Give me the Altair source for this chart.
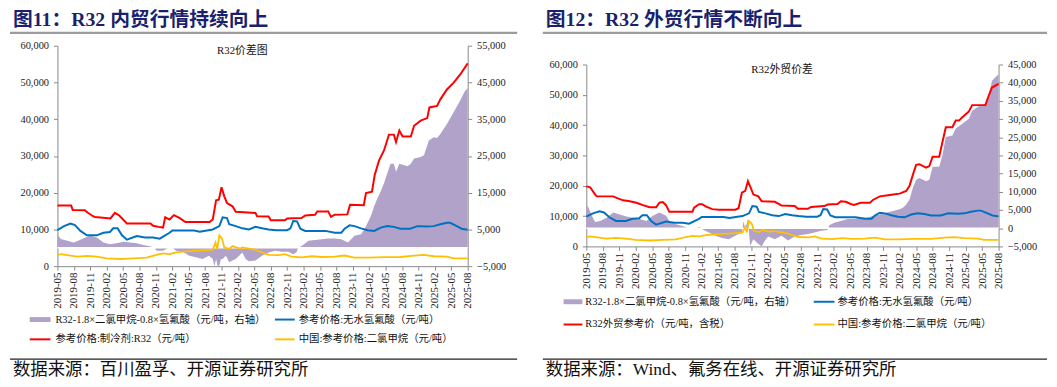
import altair as alt
import pandas as pd

# ---------------- data (x = months since 2019-05) ----------------
TICK_LABELS = ["2019-05", "2019-08", "2019-11", "2020-02", "2020-05", "2020-08", "2020-11",
               "2021-02", "2021-05", "2021-08", "2021-11", "2022-02", "2022-05", "2022-08",
               "2022-11", "2023-02", "2023-05", "2023-08", "2023-11", "2024-02", "2024-05",
               "2024-08", "2024-11", "2025-02", "2025-05", "2025-08"]

# domestic spread  R32-1.8xDCM-0.8xHF (right axis)
DOM_SPREAD_M = [0, 0.6, 1.8, 3, 4.2, 5.1, 6, 7.2, 8.4, 9.6, 10.8, 12.1, 13.3, 14.5, 15.7, 16.9, 17.8, 18.1,
                19.3, 19.9, 20.5, 21.1, 21.7, 22.9, 24.1, 25.3, 26.5, 27.7, 28.4, 28.7, 29, 29.3, 29.6,
                29.9, 30.2, 30.8, 31.4, 32, 32.6, 33.2, 33.8, 34.4, 35, 36.2, 37.4, 38.6, 39.8, 41, 42.2,
                43.1, 43.7, 44, 44.7, 45.9, 47.1, 48.3, 49.5, 50.7, 51.9, 53.1, 53.7, 54.3, 55.5, 56.1,
                56.7, 57.3, 57.9, 58.5, 59.1, 59.7, 60.3, 60.9, 61.5, 61.9, 62.5, 63.4, 64, 64.6, 65.2,
                66.4, 67, 67.9, 68.8, 69.4, 70, 71.2, 72.4, 73.6, 74.5, 75]
DOM_SPREAD_V = [3700, 2400, 1900, 1450, 2200, 2800, 3250, 2800, 1450, 1000, 1250, 1650, 1450, 1250, 750,
                400, 0, -800, -800, -350, 100, -150, -800, -1050, -2150, -2600, -3050, -2150, -3050,
                -5000, -3050, -5000, -4800, -3050, -3050, -2150, -3900, -3450, -3050, -2150, -1250,
                -3050, -3650, -3450, -2150, -1250, -800, -1050, -1050, -1750, -1200, 0, 550, 1900, 2150,
                2350, 2550, 2550, 2350, 1450, 2350, 3250, 3700, 5000, 6800, 8600, 11300, 13500, 15300,
                17600, 20300, 22900, 22900, 20700, 22900, 22500, 22200, 22900, 24300, 24700, 25200,
                29200, 30100, 29900, 31000, 33700, 36800, 40000, 42700, 43400]

# R32 domestic reference price
R32_M = [0, 2.5, 2.8, 5, 5.5, 6.5, 6.9, 9.7, 10.5, 11.3, 12.7, 17, 17.5, 18.5, 19.3, 19.7, 20.5, 21.3,
         22.3, 23.4, 27.8, 28.4, 29, 29.5, 30, 30.5, 31, 32, 32.6, 36.2, 36.5, 38.6, 39, 41.6, 42, 44.6,
         45.3, 47.1, 47.5, 49.5, 50, 50.7, 53, 53.5, 56, 56.4, 57.5, 58, 58.8, 59.7, 60.6, 61.5, 61.9,
         62.5, 63.1, 64.6, 65.2, 66.4, 67.6, 68, 69.4, 70, 71.2, 72.4, 73.6, 75]
R32_V = [16500, 16500, 15300, 15200, 14600, 13600, 13400, 13000, 14500, 13800, 11600, 11600, 11000,
         10700, 10500, 13300, 12700, 13900, 13150, 12000, 12000, 12700, 17900, 18100, 21500, 19000,
         17200, 16300, 14800, 14500, 13600, 13500, 12500, 12500, 13000, 13100, 13800, 14000, 14900,
         14900, 13400, 14000, 14100, 16700, 16600, 19900, 20300, 24800, 28800, 31500, 35800, 35800,
         33800, 36900, 35300, 35300, 38200, 39600, 40300, 43200, 43600, 45400, 48100, 49900, 52100, 55200]

# anhydrous hydrofluoric acid
HF_M = [0, 1.2, 2.4, 3.2, 4.2, 5.4, 7.2, 8.4, 9.6, 10.2, 11, 11.8, 12.7, 14.5, 16, 17.5, 18.7, 20.5, 21,
        25, 26, 28.4, 29.6, 30.2, 31, 31.4, 32.6, 33.8, 35, 36.2, 37.4, 38.6, 40, 42, 42.6, 43.1, 43.8,
        44.4, 45.3, 49, 50.7, 51.9, 52.5, 53.4, 54.3, 55.5, 56.7, 57.9, 59.1, 60.3, 61.5, 62.7, 64.5,
        65.8, 67.6, 68.8, 70, 71.2, 71.8, 73, 73.9, 75]
HF_V = [9800, 10900, 11600, 11200, 9600, 8400, 8400, 9100, 9300, 10300, 10300, 8400, 7200, 8200, 7800,
        7800, 7500, 9100, 9700, 9700, 9400, 10000, 10900, 13300, 13100, 11400, 10900, 10300, 10000,
        10700, 10300, 10000, 9800, 9800, 10300, 12300, 12200, 10200, 9600, 9600, 9100, 9100, 10200,
        11100, 10900, 10300, 9800, 9600, 10500, 10900, 10700, 10200, 10200, 10900, 10800, 10900,
        11400, 11800, 11800, 10900, 10200, 9900]

# dichloromethane
DCM_M = [0, 0.6, 2.4, 3.6, 5.4, 7.2, 9, 11.5, 13.9, 16.3, 18.1, 19.3, 20.5, 21.7, 23.5, 26.5, 28.4, 28.9,
         29.2, 29.6, 30.1, 30.5, 31.4, 32, 32.6, 33.5, 33.8, 35, 36.2, 37.4, 38.6, 40.4, 41.6, 42.8,
         44.7, 46.5, 48.3, 50.7, 52.5, 54.3, 56.7, 59.7, 62.7, 65.2, 67, 68.8, 71.2, 72.4, 75]
DCM_V = [2900, 3300, 2900, 2600, 2800, 2600, 2150, 1950, 2150, 2350, 3100, 3500, 3300, 3750, 4000,
         4300, 4500, 6400, 4600, 8400, 7500, 5100, 4700, 5500, 5100, 4800, 5100, 4800, 4500, 3750,
         3100, 3000, 3300, 2600, 2400, 2700, 2500, 2600, 2900, 2350, 2350, 2450, 2500, 2900, 3050,
         2700, 2600, 2150, 2150]

# export spread (right axis)
EXP_SPREAD_M = [0, 0.4, 1, 1.6, 2.5, 3.7, 4.9, 6.1, 7.3, 8.5, 9.7, 10.9, 12.1, 13.3, 14.5, 15.1, 16.3,
                17.5, 18.7, 19.9, 20.5, 21.1, 22.3, 23.5, 24.7, 25.9, 27.1, 28.3, 28.6, 28.9, 29.4,
                29.8, 30.4, 31, 31.9, 32.5, 33.1, 34.3, 35.5, 36.7, 37.9, 39.1, 40.3, 41.5, 42.7, 43.9,
                44.2, 45.1, 46.3, 47.5, 48.7, 49.9, 51.1, 52.2, 53.4, 54.6, 55.8, 57, 57.6, 58.2, 58.8,
                59.4, 60, 60.6, 61.8, 62.4, 63, 64.2, 64.8, 65.4, 66.6, 67.2, 68.4, 69.6, 70.2, 71.4,
                72.6, 73.2, 73.8, 74.7, 75]
EXP_SPREAD_V = [6500, 5600, 3400, 1700, 2000, 2900, 4300, 3800, 3200, 2900, 2500, 2000, 3400, 4300,
                3400, 2000, 1100, 600, -100, -300, 400, -300, -1200, -2100, -2700, -3000, -2100, -1200,
                2000, -300, 2500, -4800, -3000, -3900, -5000, -3400, -2300, -3000, -2100, -3400, -2300,
                -1900, -1600, -1200, -700, -500, 800, 1500, 2000, 2500, 2500, 2900, 2900, 3400, 3800,
                4300, 4700, 5200, 5600, 6500, 7900, 11100, 13300, 13800, 12900, 13300, 16900, 16900,
                20100, 25100, 25500, 27400, 28700, 30100, 32300, 33500, 34200, 36400, 40500, 41900, 42300]

# R32 export reference price (tax incl.)
R32_EXP_M = [0, 0.7, 1, 1.6, 1.9, 4.9, 5.5, 6.7, 7.9, 9.1, 10.3, 11.5, 12.7, 13.3, 13.9, 14.5, 15.1,
             19.3, 19.6, 20.5, 21.1, 21.7, 22.9, 24.1, 27.1, 27.7, 28.3, 28.9, 29.4, 29.8, 30.4, 31.3,
             31.9, 34.3, 34.9, 35.5, 37.9, 38.5, 40.3, 40.9, 43.3, 43.9, 45.7, 46.3, 47.2, 48.1, 48.7,
             49.9, 51.6, 52.2, 53.4, 54.6, 55.8, 57, 58.2, 58.8, 59.4, 60, 60.6, 61.8, 62.4, 63, 64.2,
             64.8, 65.4, 66.6, 67.2, 67.8, 68.4, 69.6, 70.2, 72.6, 73.2, 73.8, 75]
R32_EXP_V = [19800, 19500, 18700, 17100, 16500, 16500, 16000, 15200, 14900, 14400, 13600, 12900, 12900,
             14400, 14600, 13600, 11400, 11400, 12800, 13900, 13900, 13200, 12300, 12100, 12100, 12600,
             17700, 18300, 21500, 19800, 17100, 16500, 14900, 14700, 14100, 13500, 13300, 12400, 12400,
             13000, 13300, 13800, 14000, 14900, 14700, 14000, 13700, 14400, 14400, 15400, 16500, 16800,
             17100, 17400, 18300, 20000, 23600, 26900, 27100, 26000, 26500, 29600, 29600, 34500, 39300,
             39300, 41500, 41500, 42600, 44500, 46600, 46600, 49700, 52400, 53600]

# ---------------- texts ----------------
TITLE_L = "图11：R32 内贸行情持续向上"
TITLE_R = "图12：R32 外贸行情不断向上"
INNER_L = "R32价差图"
INNER_R = "R32外贸价差"
LEG_SPREAD = "R32-1.8×二氯甲烷-0.8×氢氟酸（元/吨，右轴）"
LEG_HF = "参考价格:无水氢氟酸（元/吨）"
LEG_R32 = "参考价格:制冷剂:R32（元/吨）"
LEG_R32_EXP = "R32外贸参考价（元/吨，含税）"
LEG_DCM = "中国:参考价格:二氯甲烷（元/吨）"
SRC_L = "数据来源：百川盈孚、开源证券研究所"
SRC_R = "数据来源：Wind、氟务在线、开源证券研究所"

# ---------------- style ----------------
PURPLE = "#B0A2C8"
RED = "#FF0000"
BLUE = "#0070C0"
YELLOW = "#FFC000"
NAVY = "#1B1F6E"
AXIS_C = "#8A8A8A"
SERIF = "'Times New Roman', 'Liberation Serif', 'Noto Sans CJK SC'"

LABEL_EXPR = "[" + ",".join("'%s'" % t for t in TICK_LABELS) + "][round(datum.value/3)]"


def df(m, v):
    return pd.DataFrame({"m": m, "v": v})


def txt(s, x, y, size, align="left", baseline="middle", bold=False, color="#111111"):
    return alt.Chart(pd.DataFrame({"t": [s]})).mark_text(
        align=align, baseline=baseline, font=SERIF, fontSize=size,
        fontWeight="bold" if bold else "normal", color=color
    ).encode(x=alt.value(x), y=alt.value(y), text="t:N")


def hline(x1, x2, y, color, sw):
    return alt.Chart(pd.DataFrame({"a": [0]})).mark_rule(color=color, strokeWidth=sw).encode(
        x=alt.value(x1), x2=alt.value(x2), y=alt.value(y))


def y_axis(orient, vals):
    return alt.Axis(orient=orient, values=vals, format=",.0f", grid=False, title=None,
                    labelFont=SERIF, labelFontSize=10.5, labelColor="#222222", labelOverlap=False,
                    labelFlush=False, domainColor=AXIS_C, tickColor=AXIS_C, tickSize=4,
                    labelPadding=5)


X_AXIS = alt.Axis(values=list(range(0, 76, 3)), labelExpr=LABEL_EXPR, labelAngle=270,
                  labelFont=SERIF, labelFontSize=11, labelColor="#222222", tickSize=4,
                  tickColor=AXIS_C, domainColor=AXIS_C, labelPadding=2, grid=False,
                  labelOverlap=False, labelFlush=False, title=None)


def panel(W, H, top, spread, price, ldom, lvals, rdom, rvals, decor):
    # plot area spans from `top` to H inside the view
    xenc = alt.X("m:Q", scale=alt.Scale(domain=[0, 75], nice=False, zero=False), axis=X_AXIS)
    rscale = alt.Scale(domain=rdom, range=[H, top], nice=False, zero=False)
    yr = alt.Y("v:Q", scale=rscale, axis=y_axis("right", rvals))
    yl = alt.Y("v:Q", scale=alt.Scale(domain=ldom, range=[H, top], nice=False, zero=False),
               axis=y_axis("left", lvals))
    area = alt.Chart(spread).mark_area(color=PURPLE, opacity=1).encode(x=xenc, y=yr, y2=alt.datum(0))
    # thin white gap along the zero line of the right axis (drawn through the same scale)
    zero = alt.Chart(spread).mark_line(color="white", strokeWidth=1.5).encode(
        x=xenc, y=alt.Y("z:Q", scale=rscale, axis=y_axis("right", rvals))
    ).transform_calculate(z="0")
    right_group = alt.layer(area, zero)

    def line(d, color, sw):
        return alt.Chart(d).mark_line(color=color, strokeWidth=sw).encode(x=xenc, y=yl)

    left_group = alt.layer(line(df(DCM_M, DCM_V), YELLOW, 1.8),
                           line(df(HF_M, HF_V), BLUE, 2),
                           line(price, RED, 2), *decor)
    return alt.layer(right_group, left_group).resolve_scale(y="independent").properties(
        width=W, height=H)


def legend(items, sx1, sx2, tx, cx1, cx2, ctx, y1, y2):
    out = []
    pos = [(sx1, sx2, tx, y1), (cx1, cx2, ctx, y1), (sx1, sx2, tx, y2), (cx1, cx2, ctx, y2)]
    for (label, color, sw), (a, b, t, y) in zip(items, pos):
        out.append(hline(a, b, y, color, sw))
        out.append(txt(label, t, y, 10.5))
    return out


# ---------------- left panel (view origin at page 53,44) ----------------
decor_l = [
    txt(TITLE_L, -45, -36, 20, baseline="top", bold=True, color=NAVY),
    hline(-48, 465, -13, "#9C9C9C", 2.5),
    txt(INNER_L, 187, 5, 11, align="center"),
    *legend([(LEG_SPREAD, PURPLE, 5), (LEG_HF, BLUE, 2), (LEG_R32, RED, 2), (LEG_DCM, YELLOW, 2)],
            -28, -7, -2, 220, 240, 244, 277, 297),
    hline(-48, 465, 317, "#222222", 1.2),
    txt(SRC_L, -45, 328, 17.6),
]
left = panel(415, 223, 0, df(DOM_SPREAD_M, DOM_SPREAD_V), df(R32_M, R32_V),
             [0, 60000], list(range(0, 60001, 10000)),
             [-5000, 55000], list(range(-5000, 55001, 10000)), decor_l)

# ---------------- right panel (view origin at page 584,44; plot from page 63 to 247) ----------------
decor_r = [
    txt(TITLE_R, -41, -36, 20, baseline="top", bold=True, color=NAVY),
    hline(-44, 466, -13, "#9C9C9C", 2.5),
    txt(INNER_R, 198, 25, 11, align="center"),
    *legend([(LEG_SPREAD, PURPLE, 5), (LEG_HF, BLUE, 2), (LEG_R32_EXP, RED, 2), (LEG_DCM, YELLOW, 2)],
            -23, -4, -1, 230, 251, 254, 259, 282),
    hline(-44, 466, 317, "#222222", 1.2),
    txt(SRC_R, -41, 328, 17.6),
]
right = panel(417, 203, 19, df(EXP_SPREAD_M, EXP_SPREAD_V), df(R32_EXP_M, R32_EXP_V),
              [0, 60000], list(range(0, 60001, 10000)),
              [-5000, 45000], list(range(-5000, 45001, 5000)), decor_r)

chart = alt.hconcat(left, right, spacing=22).properties(
    padding=0, background="white").configure_view(stroke=None)

chart.save("out.html", embed_options={"renderer": "svg", "actions": False})
